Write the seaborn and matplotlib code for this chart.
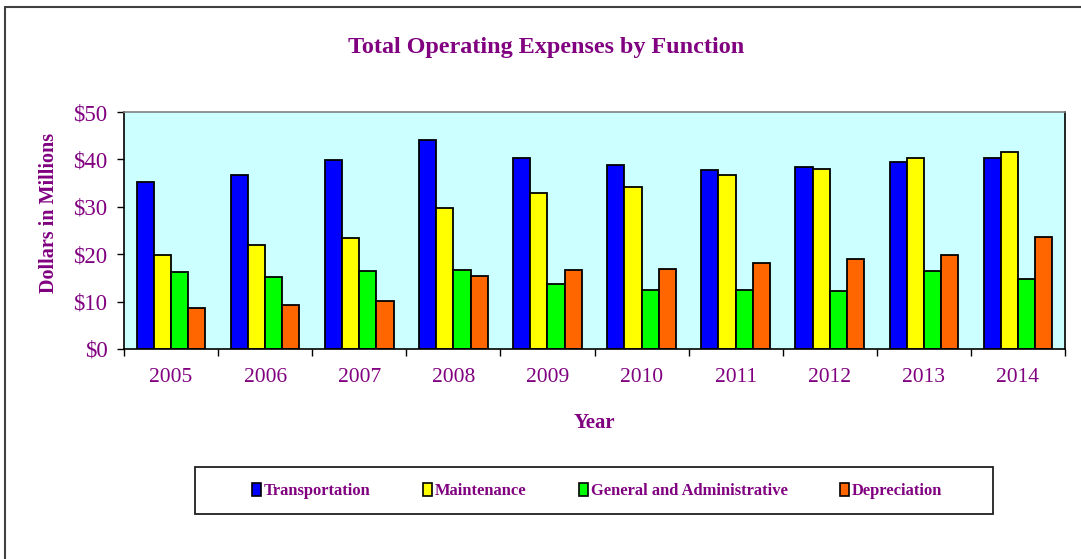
import matplotlib
matplotlib.use("Agg")
import matplotlib.pyplot as plt
from matplotlib.patches import Rectangle, Patch
from matplotlib.lines import Line2D
import seaborn as sns
import pandas as pd

years = ["2005", "2006", "2007", "2008", "2009", "2010", "2011", "2012", "2013", "2014"]
transportation = [35.2, 36.8, 39.9, 44.0, 40.2, 38.9, 37.8, 38.4, 39.5, 40.4]
maintenance = [19.8, 21.9, 23.4, 29.8, 32.9, 34.1, 36.8, 38.0, 40.4, 41.5]
general_admin = [16.3, 15.2, 16.5, 16.7, 13.7, 12.4, 12.5, 12.2, 16.5, 14.7]
depreciation = [8.7, 9.2, 10.1, 15.3, 16.7, 16.9, 18.1, 19.0, 19.9, 23.6]
series_names = ["Transportation", "Maintenance", "General and Administrative", "Depreciation"]
series_colors = ["#0000FF", "#FFFF00", "#00FF00", "#FF6600"]
y_ticks = [0, 10, 20, 30, 40, 50]
y_tick_labels = ["\\$0", "\\$10", "\\$20", "\\$30", "\\$40", "\\$50"]

sns.set_theme(style="white")
plt.rcParams['font.family'] = ['Liberation Serif', 'DejaVu Serif']
purple = "#800080"

rows = []
for name, vals in zip(series_names, [transportation, maintenance, general_admin, depreciation]):
    for y, v in zip(years, vals):
        rows.append({"Year": y, "Value": v, "Series": name})
df = pd.DataFrame(rows)

fig = plt.figure(figsize=(10.81, 5.59), dpi=100)
ax = fig.add_axes([124 / 1081, 1 - 349 / 559, (1065 - 124) / 1081, (349 - 112) / 559])
ax.set_facecolor("#CCFFFF")

sns.barplot(data=df, x="Year", y="Value", hue="Series", order=years, hue_order=series_names,
            palette=series_colors, width=0.73, edgecolor="black", linewidth=1.3,
            saturation=1, gap=0, ax=ax, legend=False)

ax.set_xlim(-0.5, len(years) - 0.5)
ax.set_ylim(0, 50)
ax.set_yticks(y_ticks)
ax.set_yticklabels(y_tick_labels, color=purple, fontsize=16.5)
ax.set_xticks([i - 0.5 for i in range(len(years) + 1)])
ax.set_xticklabels([])
ax.set_xticks(range(len(years)), minor=True)
ax.set_xticklabels(years, minor=True, color=purple, fontsize=15.5)
ax.tick_params(axis="x", which="major", direction="out", length=5, width=1, color="black", bottom=True)
ax.tick_params(axis="x", which="minor", length=0, pad=14)
ax.tick_params(axis="y", direction="out", length=5, width=1, color="black", left=True, pad=7)

for side in ["left", "bottom", "right"]:
    ax.spines[side].set_color("black")
    ax.spines[side].set_linewidth(1.2)
ax.spines["top"].set_color("#808080")
ax.spines["top"].set_linewidth(1.2)

ax.set_xlabel("Year", color=purple, fontsize=15, fontweight="bold")
ax.xaxis.set_label_coords(0.5, -(423 - 349) / 237)
ax.xaxis.label.set_va("center")
ax.set_ylabel("Dollars in Millions", color=purple, fontsize=14.5, fontweight="bold")
ax.yaxis.set_label_coords((49 - 124) / 941, (349 - 213) / 237)
ax.yaxis.label.set_va("center")
fig.text(546 / 1081, 1 - 48 / 559, "Total Operating Expenses by Function", color=purple,
         fontsize=17.4, fontweight="bold", ha="center", va="center")

# figure border
fig.add_artist(Line2D([5 / 1081, 5 / 1081], [0, 1 - 7 / 559], transform=fig.transFigure,
                      color="#404040", lw=1.5))
fig.add_artist(Line2D([5 / 1081, 1], [1 - 7 / 559, 1 - 7 / 559], transform=fig.transFigure,
                      color="#404040", lw=1.5))

# legend box
fig.add_artist(Rectangle((195 / 1081, 1 - 514 / 559), (993 - 195) / 1081, (514 - 467) / 559,
                         transform=fig.transFigure, fill=False, edgecolor="#202020", lw=1.3))
handles = [Patch(facecolor=c, edgecolor="black", linewidth=1.2) for c in series_colors]
leg = fig.legend(handles, series_names, loc="center", bbox_to_anchor=(597 / 1081, 1 - 491 / 559),
                 ncol=4, frameon=False, handlelength=0.55, handleheight=0.9, handletextpad=0.15,
                 columnspacing=3.2, prop={"weight": "bold", "size": 11.9})
for t in leg.get_texts():
    t.set_color(purple)

fig.savefig("out.png", dpi=100)
